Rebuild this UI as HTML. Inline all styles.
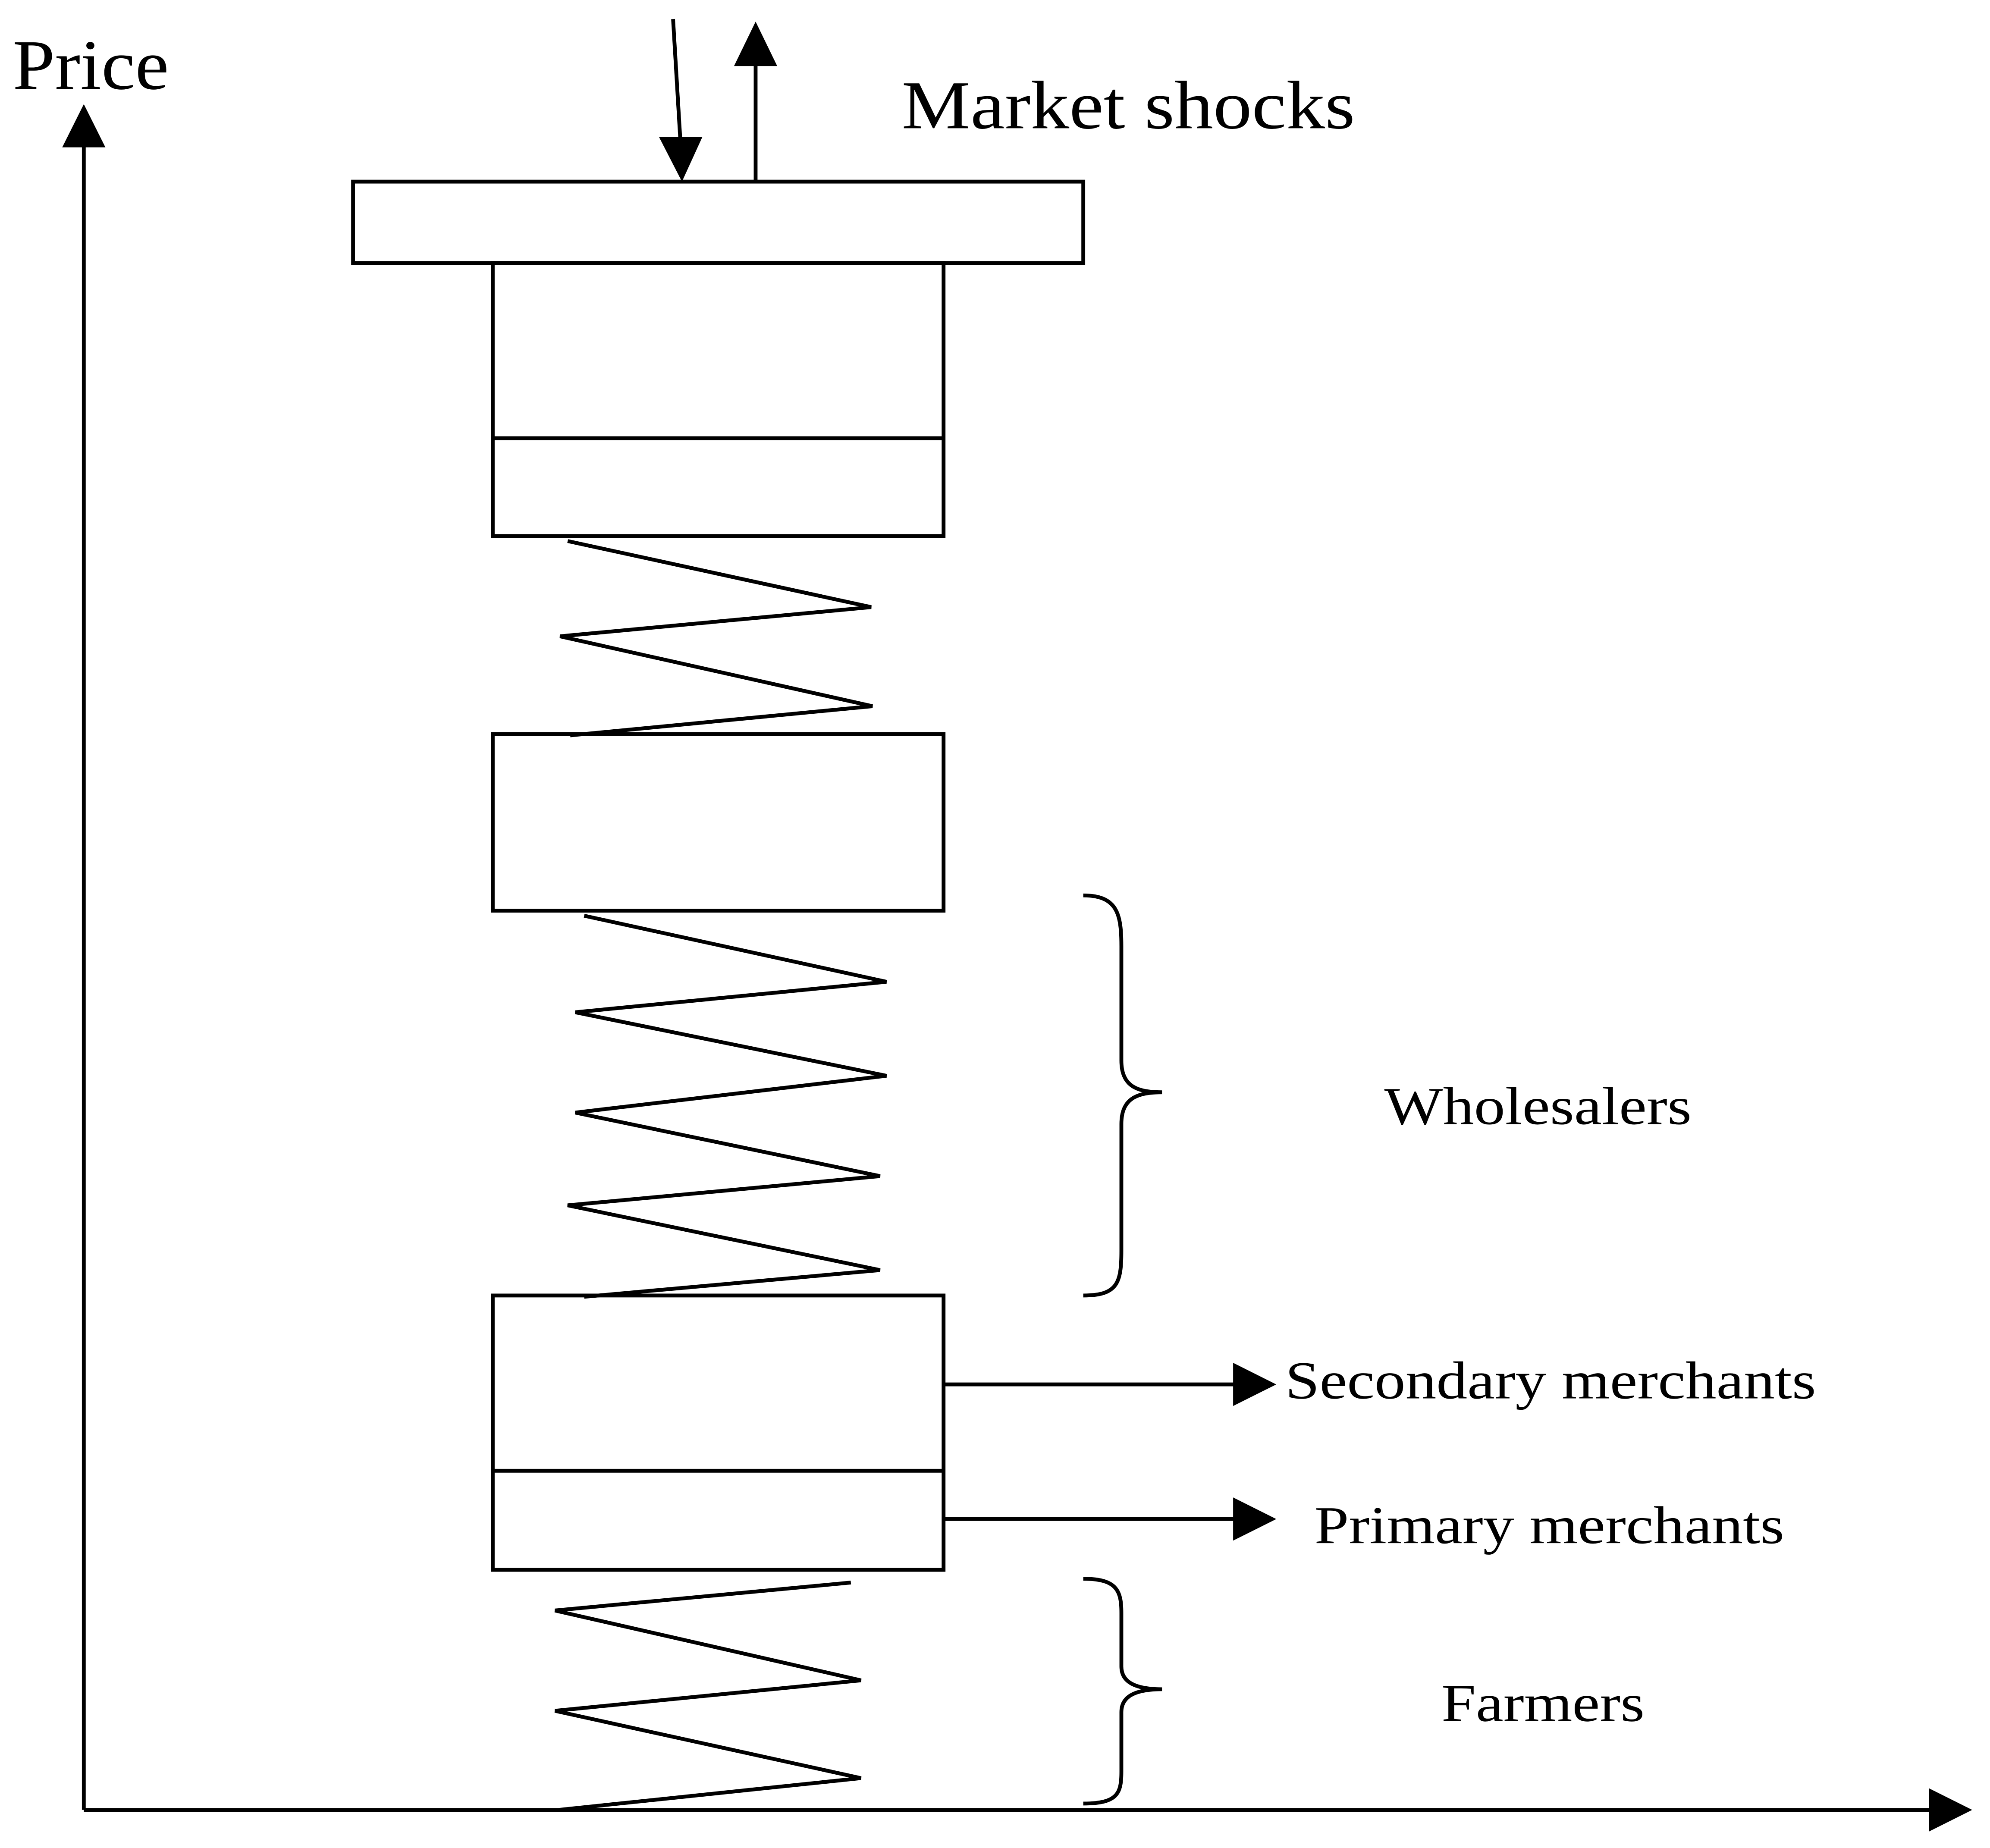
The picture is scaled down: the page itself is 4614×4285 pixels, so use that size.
<!DOCTYPE html>
<html><head><meta charset="utf-8"><style>html,body{margin:0;padding:0;background:#fff}svg{display:block}</style></head>
<body>
<svg width="4614" height="4285" viewBox="0 0 1567 1455" xmlns="http://www.w3.org/2000/svg" preserveAspectRatio="none">
<g fill="none" stroke="#000" stroke-width="3">
<line x1="66" y1="110" x2="66" y2="1425"/>
<line x1="66" y1="1425" x2="1525" y2="1425"/>
<rect x="278" y="143" width="575" height="64"/>
<rect x="388" y="207" width="355" height="215"/>
<line x1="388" y1="345" x2="743" y2="345"/>
<rect x="388" y="578" width="355" height="139"/>
<rect x="388" y="1020" width="355" height="216"/>
<line x1="388" y1="1158" x2="743" y2="1158"/>
<line x1="530" y1="15" x2="536" y2="115"/>
<line x1="595" y1="143" x2="595" y2="48"/>
<line x1="743" y1="1090" x2="975" y2="1090"/>
<line x1="743" y1="1196" x2="975" y2="1196"/>
<polyline points="447,426 686,478 441,501 687,556 449,579"/>
<polyline points="460,721 698,773 453,797 698,847 453,876 693,926 447,949 693,1000 460,1021"/>
<polyline points="670,1246 437,1268 678,1323 437,1347 678,1400 440,1425"/>
<path d="M853,705 C880,705 883,720 883,745 L883,835 C883,855 895,860 915,860 C895,860 883,865 883,885 L883,985 C883,1010 880,1020 853,1020"/>
<path d="M853,1243 C880,1243 883,1253 883,1270 L883,1312 C883,1325 895,1330 915,1330 C895,1330 883,1335 883,1348 L883,1395 C883,1412 880,1420 853,1420"/>
</g>
<g fill="#000">
<polygon points="66,82 49,116 83,116"/>
<polygon points="1553,1425 1519,1408 1519,1442"/>
<polygon points="537,143 519,108 553,108"/>
<polygon points="595,17 578,52 612,52"/>
<polygon points="1005,1090 971,1073 971,1107"/>
<polygon points="1005,1196 971,1179 971,1213"/>
</g>
<g font-family="'Liberation Serif', serif" fill="#000">
<text x="10" y="70" font-size="56" textLength="123" lengthAdjust="spacingAndGlyphs">Price</text>
<text x="710" y="101" font-size="54" textLength="357" lengthAdjust="spacingAndGlyphs">Market shocks</text>
<text x="1090" y="885" font-size="42" textLength="242" lengthAdjust="spacingAndGlyphs">Wholesalers</text>
<text x="1012" y="1101" font-size="42" textLength="418" lengthAdjust="spacingAndGlyphs">Secondary merchants</text>
<text x="1035" y="1215" font-size="42" textLength="370" lengthAdjust="spacingAndGlyphs">Primary merchants</text>
<text x="1135" y="1355" font-size="42" textLength="160" lengthAdjust="spacingAndGlyphs">Farmers</text>
</g>
</svg>
</body></html>
